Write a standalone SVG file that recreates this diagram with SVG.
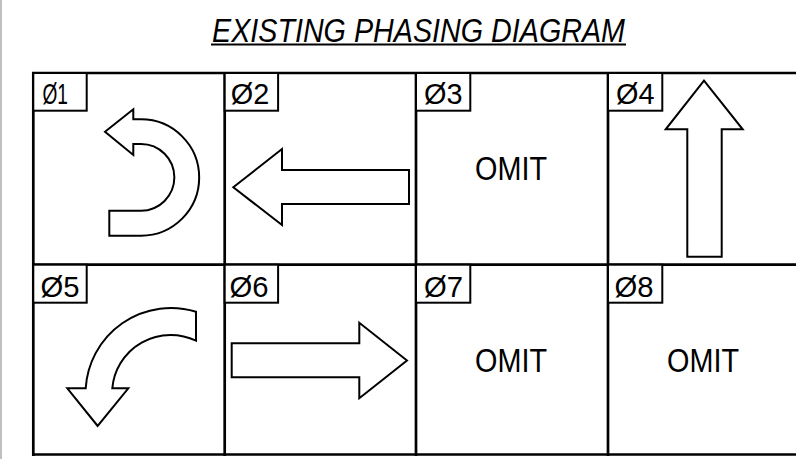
<svg xmlns="http://www.w3.org/2000/svg" width="796" height="459" viewBox="0 0 796 459">
<style>
.grid{stroke:#000;stroke-width:2.7;fill:none}
.box{stroke:#000;stroke-width:2;fill:#fff}
.lbl{font-family:"Liberation Sans",Arial,sans-serif;font-size:30px;fill:#000}
.omit{font-family:"Liberation Sans",Arial,sans-serif;font-size:33px;fill:#000;text-anchor:middle}
.arrow{stroke:#000;stroke-width:2;fill:#fff;stroke-linejoin:miter}
.title{font-family:"Liberation Sans",Arial,sans-serif;font-size:33px;font-style:italic;fill:#000}
</style>
<rect x="0" y="0" width="796" height="459" fill="#fff"/>
<line x1="1" y1="0" x2="1" y2="459" stroke="#c0c0c0" stroke-width="2"/>
<g id="title">
<text class="title" x="212" y="42" textLength="413" lengthAdjust="spacingAndGlyphs">EXISTING PHASING DIAGRAM</text>
<line x1="211" y1="44.5" x2="626" y2="44.5" stroke="#000" stroke-width="2"/>
</g>
<g id="grid" class="grid">
<line x1="32" y1="73" x2="796" y2="73"/>
<line x1="32" y1="264.7" x2="796" y2="264.7"/>
<line x1="32" y1="454.5" x2="796" y2="454.5"/>
<line x1="33.3" y1="72" x2="33.3" y2="456"/>
<line x1="224.7" y1="72" x2="224.7" y2="456"/>
<line x1="416" y1="72" x2="416" y2="456"/>
<line x1="608" y1="72" x2="608" y2="456"/>
</g>
<g id="phase1">
<rect class="box" x="33.3" y="73" width="53.4" height="37.7"/>
<text class="lbl" x="42.5" y="104" textLength="25.5" lengthAdjust="spacingAndGlyphs">Ø1</text>
<path class="arrow" d="M105,131.7 L133.3,109.3 L133.3,119.3 L141,119.3 A58.2,58.2 0 0 1 141,235.7 L109.3,235.7 L109.3,210.7 L141,210.7 A33.3,33.3 0 0 0 141,144 L133.3,144 L133.3,155 Z"/>
</g>
<g id="phase2">
<rect class="box" x="224.7" y="73" width="53.4" height="37.7"/>
<text class="lbl" x="230.7" y="104" textLength="38.5" lengthAdjust="spacingAndGlyphs">Ø2</text>
<path class="arrow" d="M233.3,187.3 L282,149 L282,170 L409,170 L409,204 L282,204 L282,225 Z"/>
</g>
<g id="phase3">
<rect class="box" x="416" y="73" width="54.3" height="37.7"/>
<text class="lbl" x="424" y="104" textLength="38.5" lengthAdjust="spacingAndGlyphs">Ø3</text>
<text class="omit" x="511" y="180" textLength="72" lengthAdjust="spacingAndGlyphs">OMIT</text>
</g>
<g id="phase4">
<rect class="box" x="608" y="73" width="54.3" height="37.7"/>
<text class="lbl" x="616" y="104" textLength="38.5" lengthAdjust="spacingAndGlyphs">Ø4</text>
<path class="arrow" d="M704,80.7 L742.7,129.3 L721.7,129.3 L721.7,256.7 L687.3,256.7 L687.3,129.3 L665.7,129.3 Z"/>
</g>
<g id="phase5">
<rect class="box" x="33.3" y="264.7" width="53.4" height="38"/>
<text class="lbl" x="40.5" y="296.5" textLength="39" lengthAdjust="spacingAndGlyphs">Ø5</text>
<path class="arrow" d="M97.7,426 L67.3,388.3 L85.7,388.3 A85.5,85.5 0 0 1 196,311.7 L196,340.7 A58.5,58.5 0 0 0 112.3,388.3 L128.3,388.3 Z"/>
</g>
<g id="phase6">
<rect class="box" x="224.7" y="264.7" width="53.4" height="38"/>
<text class="lbl" x="229.5" y="296.5" textLength="39" lengthAdjust="spacingAndGlyphs">Ø6</text>
<path class="arrow" d="M407,360.5 L359.3,322.7 L359.3,343.3 L231.7,343.3 L231.7,377.3 L359.3,377.3 L359.3,398.3 Z"/>
</g>
<g id="phase7">
<rect class="box" x="416" y="264.7" width="54.3" height="38"/>
<text class="lbl" x="424" y="296.5" textLength="39" lengthAdjust="spacingAndGlyphs">Ø7</text>
<text class="omit" x="511" y="372" textLength="72" lengthAdjust="spacingAndGlyphs">OMIT</text>
</g>
<g id="phase8">
<rect class="box" x="608" y="264.7" width="54.3" height="38"/>
<text class="lbl" x="614.5" y="296.5" textLength="39" lengthAdjust="spacingAndGlyphs">Ø8</text>
<text class="omit" x="703" y="372" textLength="72" lengthAdjust="spacingAndGlyphs">OMIT</text>
</g>
</svg>
